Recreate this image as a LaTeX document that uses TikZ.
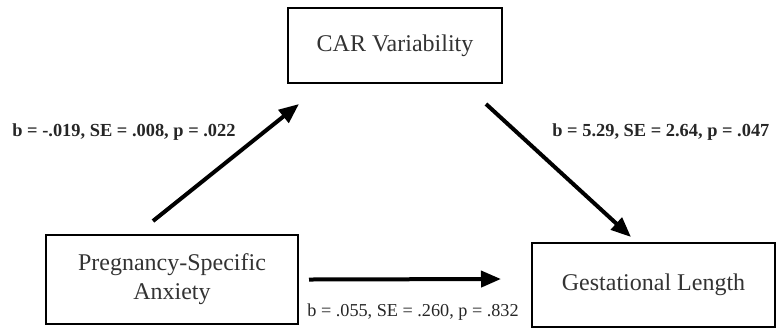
\documentclass[tikz,border=0pt]{standalone}
\usepackage{fontspec}
\setmainfont{Liberation Serif}
\usetikzlibrary{calc,arrows.meta}

\tikzset{
  varbox/.style={draw=black, line width=1pt, text=black!80, align=center,
    font=\fontsize{12}{14.5}\selectfont, inner sep=0pt},
  path/.style={line width=2pt, -{Triangle[length=10pt,width=8pt]}},
  coef/.style={text=black!85, inner sep=0pt, font=\fontsize{9.2}{11}\selectfont\bfseries},
  direct/.style={text=black!85, inner sep=0pt, font=\fontsize{9.1}{11}\selectfont}
}

\begin{document}
\begin{tikzpicture}[x=0.5pt,y=-0.5pt]
	\useasboundingbox (0,0) rectangle (778,329);
	%----------------------------------------------------
	% the three variables
	%----------------------------------------------------
	\node[varbox, minimum width=107pt, minimum height=37.5pt] (car) at (395,45.5) {CAR Variability};
	\node[varbox, minimum width=126pt, minimum height=44.5pt] (anx) at (172,279.5) {Pregnancy-Specific\\Anxiety};
	\node[varbox, minimum width=121.5pt, minimum height=42pt] (gest) at (653.5,285) {Gestational Length};

	%----------------------------------------------------
	% paths a, b and c'
	%----------------------------------------------------
	\draw[path] ($(anx.north)+(-19,-13)$) -- ($(car.south west)+(12,20)$);
	\draw[path] ($(car.south east)+(-17,20)$) -- ($(gest.north west)+(100,-5)$);
	\draw[path] ($(anx.east)+(10,0)$) -- ($(gest.west)+(-30,-6)$);

	\node[coef, anchor=west] (ca) at (12,132) {b = -.019, SE = .008, p = .022};
	\node[coef, anchor=west] (cb) at (552,132) {b = 5.29, SE = 2.64, p = .047};
	\node[direct, anchor=west] (cc) at (307,312) {b = .055, SE = .260, p = .832};
\end{tikzpicture}
\end{document}
